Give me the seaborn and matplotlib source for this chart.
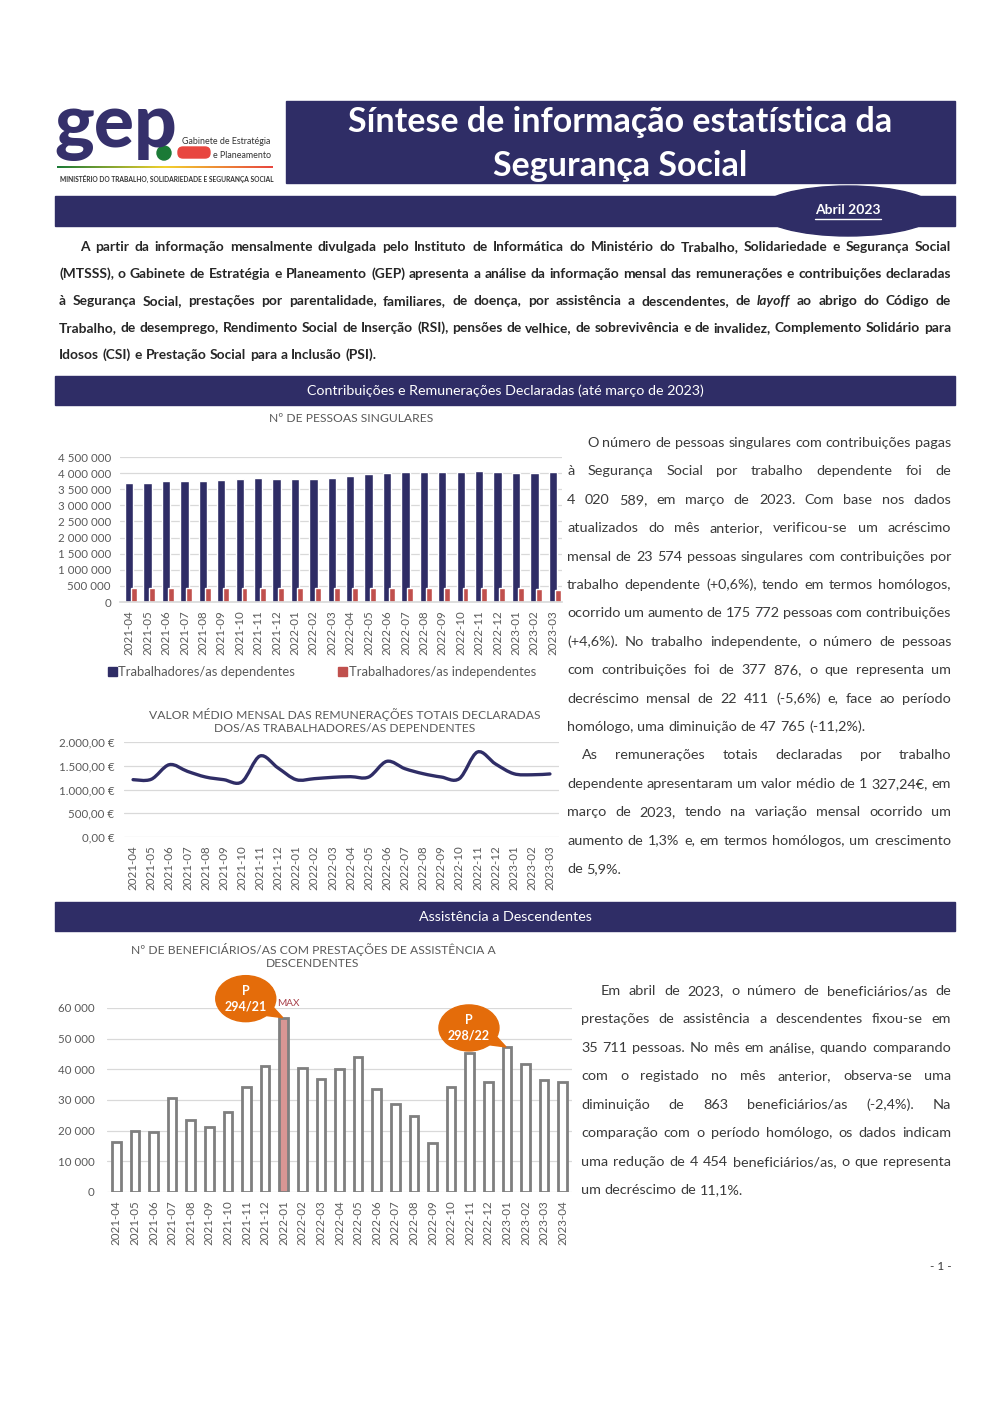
import numpy as np
import pandas as pd
import matplotlib
matplotlib.use("Agg")
import matplotlib.pyplot as plt
import matplotlib.transforms as mtransforms
from matplotlib.patches import Rectangle, Ellipse, Polygon, Patch, FancyBboxPatch, PathPatch
from matplotlib.path import Path
import seaborn as sns

# ---- data ----
meses_1 = ['2021-04', '2021-05', '2021-06', '2021-07', '2021-08', '2021-09', '2021-10', '2021-11',
           '2021-12', '2022-01', '2022-02', '2022-03', '2022-04', '2022-05', '2022-06', '2022-07',
           '2022-08', '2022-09', '2022-10', '2022-11', '2022-12', '2023-01', '2023-02', '2023-03']
dependentes = [3680000, 3700000, 3750000, 3770000, 3770000, 3800000, 3810000, 3850000,
               3830000, 3810000, 3830000, 3844817, 3910000, 3960000, 3990000, 4030000,
               4020000, 4040000, 4040000, 4080000, 4050000, 4015000, 3997015, 4020589]
independentes = [445000, 448000, 442000, 445000, 440000, 445000, 446000, 447000,
                 447000, 432000, 428000, 425641, 427000, 420000, 425000, 428000,
                 430000, 432000, 433000, 437000, 425000, 420000, 400287, 377876]
remuneracao = [1207, 1215, 1523, 1382, 1263, 1207, 1160, 1705, 1453, 1207, 1228, 1256,
               1270, 1263, 1593, 1438, 1333, 1263, 1228, 1789, 1537, 1333, 1310, 1327.24]
meses_3 = meses_1 + ['2023-04']
assistencia = [16400, 19800, 19450, 30750, 23500, 21100, 26200, 34100, 41100, 56850,
               40450, 36950, 40165, 44100, 33600, 28800, 24900, 16100, 34250, 45300,
               36000, 47300, 41850, 36574, 35711]
callouts = [('2022-01', 'P\n294/21'), ('2023-01', 'P\n298/22')]

intro = [
    "A partir da informação mensalmente divulgada pelo Instituto de Informática do Ministério do Trabalho, Solidariedade e Segurança Social",
    "(MTSSS), o Gabinete de Estratégia e Planeamento (GEP) apresenta a análise da informação mensal das remunerações e contribuições declaradas",
    "à Segurança Social, prestações por parentalidade, familiares, de doença, por assistência a descendentes, de _layoff_ ao abrigo do Código de",
    "Trabalho, de desemprego, Rendimento Social de Inserção (RSI), pensões de velhice, de sobrevivência e de invalidez, Complemento Solidário para",
    "Idosos (CSI) e Prestação Social para a Inclusão (PSI).",
]
texto_1 = [
    "O número de pessoas singulares com contribuições pagas",
    "à Segurança Social por trabalho dependente foi de",
    "4 020 589, em março de 2023. Com base nos dados",
    "atualizados do mês anterior, verificou-se um acréscimo",
    "mensal de 23 574 pessoas singulares com contribuições por",
    "trabalho dependente (+0,6%), tendo em termos homólogos,",
    "ocorrido um aumento de 175 772 pessoas com contribuições",
    "(+4,6%). No trabalho independente, o número de pessoas",
    "com contribuições foi de 377 876, o que representa um",
    "decréscimo mensal de 22 411 (-5,6%) e, face ao período",
    "homólogo, uma diminuição de 47 765 (-11,2%).",
    "As remunerações totais declaradas por trabalho",
    "dependente apresentaram um valor médio de 1 327,24€, em",
    "março de 2023, tendo na variação mensal ocorrido um",
    "aumento de 1,3% e, em termos homólogos, um crescimento",
    "de 5,9%.",
]
texto_3 = [
    "Em abril de 2023, o número de beneficiários/as de",
    "prestações de assistência a descendentes fixou-se em",
    "35 711 pessoas. No mês em análise, quando comparando",
    "com o registado no mês anterior, observa-se uma",
    "diminuição de 863 beneficiários/as (-2,4%). Na",
    "comparação com o período homólogo, os dados indicam",
    "uma redução de 4 454 beneficiários/as, o que representa",
    "um decréscimo de 11,1%.",
]

NAVY = '#2f2d66'
RED = '#c0504d'
GRID = '#d9d9d9'
TICK = '#595959'
TXT = '#3a3a3a'
ORANGE = '#e46c0a'
PINK = '#d99694'
W, H = 1000, 1413

sns.set_theme(style='white')
plt.rcParams['font.family'] = ['Lato', 'DejaVu Sans']

fig = plt.figure(figsize=(W / 100, H / 100), dpi=100)
fig.patch.set_facecolor('white')

# page layer in pixel coordinates
page = fig.add_axes([0, 0, 1, 1], zorder=0)
page.set_xlim(0, W)
page.set_ylim(H, 0)
page.axis('off')
renderer = fig.canvas.get_renderer()


def px_axes(l, t, r, b):
    return fig.add_axes([l / W, 1 - b / H, (r - l) / W, (b - t) / H], zorder=2, facecolor='none')


def justify(lines, x0, x1, y0, dy, size, weight='normal', color=TXT, indents=None, last_lines=()):
    indents = indents or {}
    for k, line in enumerate(lines):
        y = y0 + k * dy
        xs = indents.get(k, x0)
        items = []
        for w in line.split():
            style = 'normal'
            if w.startswith('_') and w.endswith('_'):
                w, style = w.strip('_'), 'italic'
            t = page.text(0, y, w, fontsize=size, fontweight=weight, style=style,
                          color=color, va='center', ha='left')
            items.append((t, t.get_window_extent(renderer).width))
        total = sum(wd for _, wd in items)
        if k in last_lines or len(items) == 1:
            gap = size * 0.26 * 100 / 72
        else:
            gap = (x1 - xs - total) / (len(items) - 1)
        x = xs
        for t, wd in items:
            t.set_x(x)
            x += wd + gap


# ---- header ----
page.text(54, 147, 'gep', fontsize=54, fontweight='black', color='#35306b', ha='left', va='baseline')
page.add_patch(Ellipse((164, 153), 14, 14, color='#1b7a36'))
page.add_patch(FancyBboxPatch((178, 147), 32, 11, boxstyle='round,pad=0,rounding_size=5', color='#e8463f'))
page.text(182, 141, 'Gabinete de Estratégia', fontsize=6.4, color='#333333', va='center')
page.text(213, 156, 'e Planeamento', fontsize=6.4, color='#333333', va='center')
grad = np.linspace(0, 1, 200).reshape(1, -1)
page.imshow(grad, cmap=matplotlib.colors.LinearSegmentedColormap.from_list(
    'g', ['#1b7a36', '#f2d12e', '#e8463f']), extent=(57, 273, 168, 166), aspect='auto')
page.text(60, 179, 'MINISTÉRIO DO TRABALHO, SOLIDARIEDADE E SEGURANÇA SOCIAL',
          fontsize=4.8, fontweight='bold', color='#333333', va='center')
page.set_xlim(0, W)
page.set_ylim(H, 0)

page.add_patch(Rectangle((286, 101), 669, 82, color=NAVY))
page.text(620, 122, 'Síntese de informação estatística da', fontsize=24.5, fontweight='bold',
          color='white', ha='center', va='center')
page.text(620, 166, 'Segurança Social', fontsize=24.5, fontweight='bold',
          color='white', ha='center', va='center')

page.add_patch(Rectangle((55, 196), 900, 30, color=NAVY))
page.add_patch(Ellipse((848, 211), 178, 50, color=NAVY))
t = page.text(848, 210, 'Abril 2023', fontsize=10, fontweight='bold', color='white', ha='center', va='center')
wd = t.get_window_extent(renderer).width
page.plot([848 - wd / 2, 848 + wd / 2], [219, 219], color='white', lw=1)

justify(intro, 59, 951, 247, 27, 9.95, weight='bold', color='#262626', indents={0: 80}, last_lines=(4,))

# section headers
for y, label in [(376, 'Contribuições e Remunerações Declaradas (até março de 2023)'),
                 (902, 'Assistência a Descendentes')]:
    page.add_patch(Rectangle((55, y), 900, 29, color=NAVY))
    page.text(505, y + 15, label, fontsize=10.3, color='white', ha='center', va='center')

# chart titles
page.text(351, 419, 'Nº DE PESSOAS SINGULARES', fontsize=8.7, color=TICK, ha='center', va='center')
page.text(345, 721, 'VALOR MÉDIO MENSAL DAS REMUNERAÇÕES TOTAIS DECLARADAS\nDOS/AS TRABALHADORES/AS DEPENDENTES',
          fontsize=8.7, color=TICK, ha='center', va='center', linespacing=1.2)
page.text(313, 956, 'Nº DE BENEFICIÁRIOS/AS COM PRESTAÇÕES DE ASSISTÊNCIA A\nDESCENDENTES',
          fontsize=8.7, color=TICK, ha='center', va='center', linespacing=1.2)

justify(texto_1, 567, 951, 443, 28.4, 10.35, indents={0: 587, 11: 582}, last_lines=(10, 15))
justify(texto_3, 581, 951, 991, 28.45, 10.35, indents={0: 601}, last_lines=(7,))
page.text(952, 1266, '- 1 -', fontsize=8.5, color=TXT, ha='right', va='center')


def style_axes(ax, fmt, pad_y):
    ax.grid(axis='y', color=GRID, lw=0.9)
    ax.set_axisbelow(True)
    for s in ['top', 'right', 'left']:
        ax.spines[s].set_visible(False)
    ax.spines['bottom'].set_color(GRID)
    ax.tick_params(axis='both', length=0, colors=TICK, labelsize=8.3)
    ax.tick_params(axis='y', pad=pad_y)
    ax.tick_params(axis='x', pad=6)
    ax.yaxis.set_major_formatter(matplotlib.ticker.FuncFormatter(fmt))
    ax.set_xlabel('')
    ax.set_ylabel('')
    plt.setp(ax.get_xticklabels(), rotation=90, va='top', ha='center')


def fmt_esp(v, _):
    return f'{int(v):,}'.replace(',', ' ')


def fmt_eur(v, _):
    return f'{v:,.2f}'.replace(',', 'X').replace('.', ',').replace('X', '.') + ' €'


# ---- chart 1 ----
ax1 = px_axes(120, 457, 562, 602)
df1 = pd.DataFrame({'mes': meses_1, 'dep': dependentes, 'ind': independentes})
sns.barplot(data=df1, x='mes', y='dep', color=NAVY, width=0.45, saturation=1, ax=ax1)
n0 = len(ax1.patches)
sns.barplot(data=df1, x='mes', y='ind', color=RED, width=0.32, saturation=1, ax=ax1)
for p in ax1.patches[n0:]:
    p.set_x(p.get_x() + 0.26)
ax1.set_ylim(0, 4500000)
ax1.set_yticks(np.arange(0, 4500001, 500000))
ax1.set_xlim(-0.5, len(meses_1) - 0.5)
style_axes(ax1, fmt_esp, 6.5)
fig.legend(handles=[Patch(color=NAVY), Patch(color=RED)],
           labels=['Trabalhadores/as dependentes', 'Trabalhadores/as independentes'],
           loc='center left', bbox_to_anchor=(96 / W, 1 - 672 / H), ncol=2, frameon=False,
           handlelength=0.7, handleheight=0.7, handletextpad=0.1, columnspacing=3.3,
           fontsize=9.4, labelcolor=TICK)

# ---- chart 2 ----
ax2 = px_axes(124, 742, 559, 837)
df2 = pd.DataFrame({'mes': meses_1, 'valor': remuneracao})
sns.lineplot(data=df2, x='mes', y='valor', color=NAVY, lw=2.4, sort=False, ax=ax2)
# redraw seaborn's line as a smoothed curve (same points, bezier segments)
ln = ax2.lines[0]
pts = ln.get_xydata()
verts, codes = [pts[0]], [Path.MOVETO]
for k in range(len(pts) - 1):
    p0 = pts[max(k - 1, 0)]
    p1, p2 = pts[k], pts[k + 1]
    p3 = pts[min(k + 2, len(pts) - 1)]
    verts += [p1 + (p2 - p0) / 6, p2 - (p3 - p1) / 6, p2]
    codes += [Path.CURVE4] * 3
ax2.add_patch(PathPatch(Path(verts, codes), fill=False, ec=NAVY, lw=2.4, capstyle='round'))
ln.set_visible(False)
ax2.set_ylim(0, 2000)
ax2.set_yticks(np.arange(0, 2001, 500))
ax2.set_xlim(-0.5, len(meses_1) - 0.5)
style_axes(ax2, fmt_eur, 7)
ax2.spines['bottom'].set_visible(False)

# ---- chart 3 ----
ax3 = px_axes(107, 1008, 572, 1192)
df3 = pd.DataFrame({'mes': meses_3, 'valor': assistencia})
imax = int(np.argmax(assistencia))
cores = {m: (PINK if i == imax else 'white') for i, m in enumerate(meses_3)}
sns.barplot(data=df3, x='mes', y='valor', hue='mes', palette=cores, legend=False, width=0.47,
            saturation=1, edgecolor='#7f7f7f', linewidth=2, ax=ax3)
ax3.set_ylim(0, 60000)
ax3.set_yticks(np.arange(0, 60001, 10000))
ax3.set_xlim(-0.5, len(meses_3) - 0.5)
style_axes(ax3, fmt_esp, 9)
ax3.spines['bottom'].set_visible(False)

for mes, label in callouts:
    i = meses_3.index(mes)
    v = assistencia[i]
    tr = mtransforms.Affine2D().translate(-37, 19) + mtransforms.ScaledTranslation(i - 0.05, v, ax3.transData)
    ax3.add_patch(Ellipse((0, 0), 60, 46, color=ORANGE, transform=tr, clip_on=False, zorder=5))
    ax3.add_patch(Polygon([(14, -16), (26, -7), (37, -19)], closed=True, color=ORANGE,
                          transform=tr, clip_on=False, zorder=5))
    ax3.text(0, 0, label, transform=tr, ha='center', va='center', color='white', fontsize=9,
             fontweight='bold', linespacing=1.35, zorder=6, clip_on=False)
ax3.annotate('MAX', xy=(imax, assistencia[imax]), xytext=(-7, 14), textcoords='offset pixels',
             ha='left', va='center', fontsize=7.2, color='#a8414b', annotation_clip=False)

fig.savefig('out.png', dpi=100)
